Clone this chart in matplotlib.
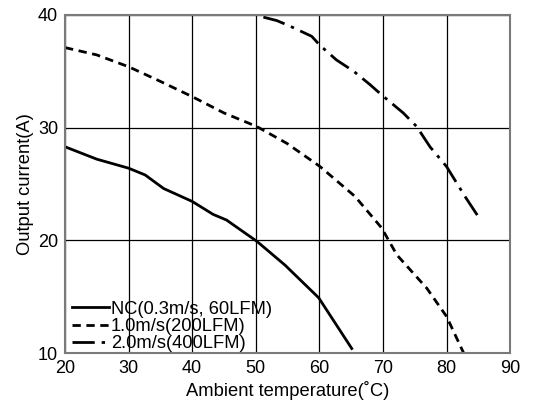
import matplotlib
matplotlib.use("Agg")
import matplotlib.pyplot as plt

plt.rcParams['font.family'] = ['Liberation Sans', 'DejaVu Sans']

nc_x = [20, 25, 30, 32.6, 35.5, 40, 43.3, 45.4, 50.2, 54.6, 59.9, 65.1]
nc_y = [28.3, 27.2, 26.4, 25.8, 24.6, 23.45, 22.3, 21.8, 19.9, 17.8, 14.9, 10.4]

m1_x = [20, 25, 30, 35, 40, 45, 50.15, 54.9, 60.1, 65.6, 69.8, 72.2, 76.9, 80.0, 82.7]
m1_y = [37.1, 36.45, 35.4, 34.1, 32.75, 31.3, 30.1, 28.6, 26.55, 23.9, 21.1, 18.7, 15.75, 13.25, 10.0]

m2_x = [51.2, 53.3, 55.4, 58.8, 60.1, 62.7, 65.4, 68.0, 69.8, 73.2, 75.3, 77.4, 80.0, 82.9, 85.0]
m2_y = [39.8, 39.5, 39.0, 38.1, 37.3, 36.0, 35.0, 33.8, 32.9, 31.3, 30.1, 28.3, 26.55, 23.9, 22.1]

labels = ["NC(0.3m/s, 60LFM)", "1.0m/s(200LFM)", "2.0m/s(400LFM)"]
x_ticks = [20, 30, 40, 50, 60, 70, 80, 90]
y_ticks = [10, 20, 30, 40]

fig = plt.figure(figsize=(5.33, 4.03), dpi=100)
ax = fig.add_axes([0.122, 0.124, 0.835, 0.839])

ax.plot(nc_x, nc_y, color='black', lw=2.0, ls='-', label=labels[0])
ax.plot(m1_x, m1_y, color='black', lw=2.0, ls=(0, (3, 2)), label=labels[1])
ax.plot(m2_x, m2_y, color='black', lw=2.0, ls=(0, (8, 2.5, 1.2, 2.5)), label=labels[2])

ax.set_xlim(20, 90)
ax.set_ylim(10, 40)
ax.set_xticks(x_ticks)
ax.set_yticks(y_ticks)
ax.grid(True, color='black', lw=0.9)
ax.tick_params(length=0, labelsize=13, pad=5)
for s in ax.spines.values():
    s.set_color('#7a7a7a')
    s.set_linewidth(1.5)

ax.set_xlabel("Ambient temperature(\u02daC)", fontsize=13.2, labelpad=3)
ax.set_ylabel("Output current(A)", fontsize=13.2, labelpad=3)

leg = ax.legend(loc='lower left', frameon=False, fontsize=13.2, handlelength=2.0,
                handletextpad=0.1, labelspacing=0.02, borderaxespad=0.0,
                bbox_to_anchor=(0.0, -0.02))

fig.savefig("out.png", dpi=100)
